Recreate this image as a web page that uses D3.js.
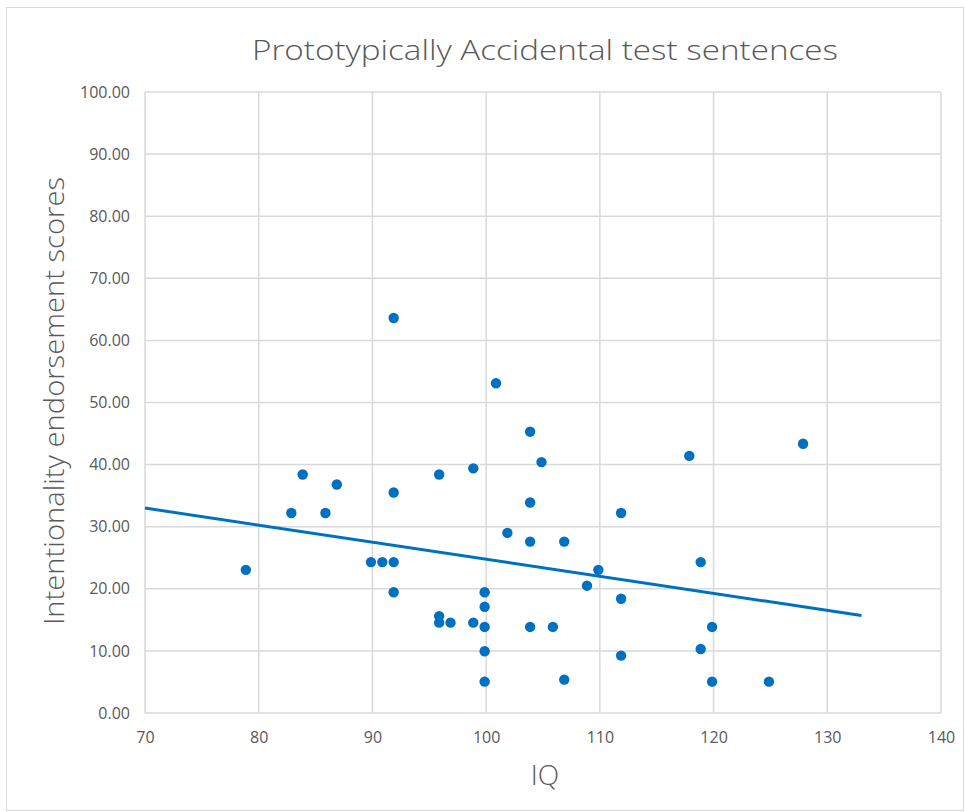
<!DOCTYPE html>
<html>
<head>
<meta charset="utf-8">
<script src="https://cdn.jsdelivr.net/npm/d3@7"></script>
<style>
  body { margin: 0; background: #fff; }
  text { font-family: "Open Sans", "Liberation Sans", sans-serif; fill: #595959; }
</style>
</head>
<body>
<script>
// IQ vs intentionality endorsement score
var iq = [79, 83, 84, 86, 87, 90, 91, 92, 92, 92, 92,
          96, 96, 96, 97, 99, 99, 100, 100, 100, 100, 100,
          101, 102, 104, 104, 104, 104, 105, 106, 107, 107,
          109, 110, 112, 112, 112, 118, 119, 119, 120, 120, 125, 128];
var score = [23.05, 32.2, 38.4, 32.2, 36.8, 24.3, 24.3, 24.3, 19.45, 35.5, 63.6,
             38.4, 15.6, 14.55, 14.55, 14.55, 39.4, 19.45, 17.1, 13.86, 9.94, 5.05,
             53.1, 29.0, 45.3, 33.9, 27.6, 13.86, 40.4, 13.86, 27.6, 5.37,
             20.5, 23.05, 32.2, 18.4, 9.24, 41.4, 24.3, 10.3, 13.86, 5.05, 5.05, 43.35];
var xTicks = [70, 80, 90, 100, 110, 120, 130, 140];
var yTicks = [0, 10, 20, 30, 40, 50, 60, 70, 80, 90, 100];
// linear trendline as drawn in the picture (IQ -> score)
var trendIQ = [70, 133];
var trendScore = [33.0, 15.7];

var W = 965, H = 812;
var margin = {left: 145, right: 24, top: 92, bottom: 99};

var svg = d3.select("body").append("svg")
    .attr("width", W)
    .attr("height", H);

svg.append("rect")
    .attr("x", 6.5).attr("y", 7.5)
    .attr("width", W - 8).attr("height", H - 9)
    .attr("fill", "#fff")
    .attr("stroke", "#d9d9d9");

var x = d3.scaleLinear().domain([70, 140]).range([margin.left, W - margin.right]);
var y = d3.scaleLinear().domain([0, 100]).range([H - margin.bottom, margin.top]);

// grid
svg.append("g").selectAll("line").data(yTicks).enter().append("line")
    .attr("x1", x(70)).attr("x2", x(140))
    .attr("y1", function(d) { return y(d); })
    .attr("y2", function(d) { return y(d); })
    .attr("stroke", "#d9d9d9").attr("stroke-width", 1.5);
svg.append("g").selectAll("line").data(xTicks).enter().append("line")
    .attr("y1", y(0)).attr("y2", y(100))
    .attr("x1", function(d) { return x(d); })
    .attr("x2", function(d) { return x(d); })
    .attr("stroke", "#d9d9d9").attr("stroke-width", 1.5);

// axes (labels only, Excel style)
var xAxis = svg.append("g")
    .attr("transform", "translate(0," + y(0) + ")")
    .call(d3.axisBottom(x).tickValues(xTicks).tickSize(0).tickPadding(19));
var yAxis = svg.append("g")
    .attr("transform", "translate(" + x(70) + ",0)")
    .call(d3.axisLeft(y).tickValues(yTicks).tickSize(0).tickPadding(15)
        .tickFormat(d3.format(".2f")));
[xAxis, yAxis].forEach(function(a) {
  a.select(".domain").remove();
  a.selectAll("text")
      .attr("fill", "#595959")
      .style("font-family", "'Open Sans', sans-serif")
      .style("font-size", "16px");
});

// trendline
svg.append("line")
    .attr("x1", x(trendIQ[0])).attr("y1", y(trendScore[0]))
    .attr("x2", x(trendIQ[1])).attr("y2", y(trendScore[1]))
    .attr("stroke", "#0070c0").attr("stroke-width", 3);

// points
svg.append("g").selectAll("circle").data(iq).enter().append("circle")
    .attr("cx", function(d) { return x(d) - 1.5; })
    .attr("cy", function(d, i) { return y(score[i]); })
    .attr("r", 5.2)
    .attr("fill", "#0070c0");

// titles
svg.append("text")
    .attr("x", 545).attr("y", 60)
    .attr("text-anchor", "middle")
    .attr("textLength", 586).attr("lengthAdjust", "spacingAndGlyphs")
    .style("font-size", "28px").style("font-weight", 300)
    .text("Prototypically Accidental test sentences");

svg.append("text")
    .attr("x", 545).attr("y", 785)
    .attr("text-anchor", "middle")
    .style("font-size", "28px").style("font-weight", 300)
    .text("IQ");

svg.append("text")
    .attr("transform", "translate(64,401) rotate(-90)")
    .attr("text-anchor", "middle")
    .attr("textLength", 448).attr("lengthAdjust", "spacingAndGlyphs")
    .style("font-size", "28px").style("font-weight", 300)
    .text("Intentionality endorsement scores");
</script>
</body>
</html>
